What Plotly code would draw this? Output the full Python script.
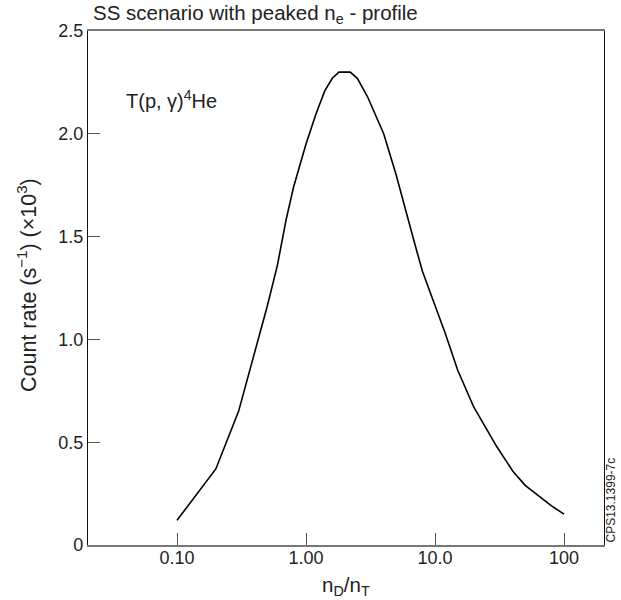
import plotly.graph_objects as go

ratio_nd_nt = [0.1, 0.2, 0.3, 0.4, 0.5, 0.6, 0.7, 0.8, 1.0, 1.2, 1.4, 1.6, 1.8, 2.2, 2.5,
               3.0, 4.0, 5.0, 6.0, 7.0, 8.0, 10, 12, 15, 20, 30, 40, 50, 80, 100]
count_rate = [0.12, 0.37, 0.65, 0.93, 1.16, 1.36, 1.58, 1.74, 1.95, 2.10, 2.21, 2.27, 2.30, 2.30, 2.27,
              2.18, 2.00, 1.80, 1.61, 1.46, 1.33, 1.17, 1.03, 0.85, 0.67, 0.48, 0.36, 0.29, 0.19, 0.15]

x_tickvals = [0.1, 1, 10, 100]
x_ticktext = ["0.10", "1.00", "10.0", "100"]
y_tickvals = [0, 0.5, 1.0, 1.5, 2.0, 2.5]
y_ticktext = ["0", "0.5", "1.0", "1.5", "2.0", "2.5"]

FONT = "Liberation Sans, Arial, Helvetica, sans-serif"

W, H = 621, 600
L, R, T, B = 88, 17, 31, 55
PW, PH = W - L - R, H - T - B


def px(xp):
    return (xp - L) / PW


def py(yp):
    return 1 - (yp - T) / PH


fig = go.Figure()
fig.add_trace(go.Scatter(x=ratio_nd_nt, y=count_rate, mode="lines",
                         line=dict(color="black", width=1.6), showlegend=False))

fig.update_layout(
    width=W, height=H,
    margin=dict(l=L, r=R, t=T, b=B),
    paper_bgcolor="white", plot_bgcolor="white",
    font=dict(family=FONT, size=18, color="#222"),
    xaxis=dict(type="log", range=[-1.69, 2.31], tickvals=x_tickvals, ticktext=x_ticktext,
               ticks="inside", ticklen=12, tickcolor="#555", tickwidth=1,
               showline=True, linecolor="#777", linewidth=1.5, mirror=True,
               showgrid=False, zeroline=False, tickfont=dict(size=18),
               ticklabelstandoff=-4),
    yaxis=dict(range=[0, 2.5], tickvals=y_tickvals, ticktext=y_ticktext,
               ticks="inside", ticklen=12, tickcolor="#555", tickwidth=1,
               showline=True, linecolor="#111", linewidth=1.2, mirror=True,
               showgrid=False, zeroline=False, tickfont=dict(size=18)),
    title=dict(text="SS scenario with peaked n<sub>e</sub> - profile", x=93 / W, xanchor="left",
               y=1 - 13 / H, yanchor="middle", font=dict(size=20.5, color="#222")),
)

fig.add_annotation(text="n<sub>D</sub>/n<sub>T</sub>", xref="paper", yref="paper",
                   x=0.5, y=py(586), xanchor="center", yanchor="middle",
                   showarrow=False, font=dict(size=20.5, color="#222"))
fig.add_annotation(text="Count rate (s<sup>−1</sup>) (×10<sup>3</sup>)", xref="paper", yref="paper",
                   x=px(27), y=py(285), xanchor="center", yanchor="middle", textangle=-90,
                   showarrow=False, font=dict(size=21.5, color="#222"))
fig.add_annotation(text="T(p, γ)<sup>4</sup>He", xref="paper", yref="paper",
                   x=px(124), y=py(100), xanchor="left", yanchor="middle",
                   showarrow=False, font=dict(size=20, color="#222"))
fig.add_annotation(text="CPS13.1399-7c", xref="paper", yref="paper",
                   x=px(610), y=0, xanchor="center", yanchor="bottom", textangle=-90,
                   showarrow=False, font=dict(size=12, color="#222"))

fig.write_html("out.html", config={"displayModeBar": False},
               post_script="document.body.style.margin='0';")
